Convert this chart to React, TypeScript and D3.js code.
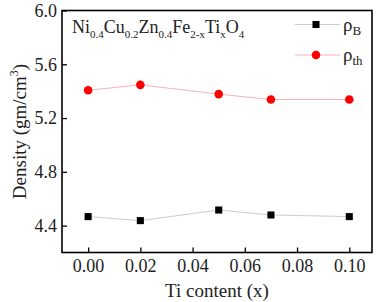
import React, { useRef, useEffect } from 'react'
import { select, scaleLinear, axisBottom, axisLeft, line, symbol, symbolSquare } from 'd3'

const tiContent = [0.0, 0.02, 0.05, 0.07, 0.1]
const rhoB = [4.467, 4.437, 4.516, 4.479, 4.467]
const rhoTh = [5.407, 5.447, 5.378, 5.338, 5.338]
const xTicks = [0.0, 0.02, 0.04, 0.06, 0.08, 0.1]
const yTicks = [4.4, 4.8, 5.2, 5.6, 6.0]

const W = 377, H = 302
const margin = { top: 10.5, right: 5, bottom: 49.5, left: 62 }
const FONT = 'Liberation Serif'

export default function App() {
  const axesRef = useRef<SVGGElement>(null)

  const x = scaleLinear().domain([-0.01, 0.1087]).range([margin.left, W - margin.right])
  const y = scaleLinear().domain([4.2, 6.0]).range([H - margin.bottom, margin.top])

  useEffect(() => {
    const g = select(axesRef.current)
    g.selectAll('*').remove()
    const xa = g.append('g')
      .attr('transform', `translate(0,${H - margin.bottom})`)
      .call(axisBottom(x).tickValues(xTicks).tickFormat((d: any) => d.toFixed(2)).tickSize(-5).tickPadding(7).tickSizeOuter(0))
    const ya = g.append('g')
      .attr('transform', `translate(${margin.left},0)`)
      .call(axisLeft(y).tickValues(yTicks).tickFormat((d: any) => d.toFixed(1)).tickSize(-5).tickPadding(5).tickSizeOuter(0))
    ;[xa, ya].forEach(a => {
      a.attr('font-family', FONT).attr('font-size', 18)
      a.select('.domain').remove()
      a.selectAll('line').attr('stroke', '#000').attr('stroke-width', 1.3)
      a.selectAll('text').attr('fill', '#222')
    })
  }, [])

  const lineGen = line<number>().x((_, i) => x(tiContent[i])).y(d => y(d))
  const sq = symbol().type(symbolSquare).size(50)()

  return (
    <div style={{ position: 'absolute', left: 0, top: 0, width: W, height: H, fontFamily: FONT }}>
      <style>{`svg text, svg tspan { font-family: "${FONT}" !important; }`}</style>
      <svg width={W} height={H} fontFamily={FONT}>
        <rect width={W} height={H} fill="#fff" />
        <path d={lineGen(rhoB) ?? ''} fill="none" stroke="#cccccc" strokeWidth={1} />
        <path d={lineGen(rhoTh) ?? ''} fill="none" stroke="#f7b4b4" strokeWidth={1} />
        {rhoB.map((d, i) => (
          <path key={'b' + i} d={sq ?? ''} transform={`translate(${x(tiContent[i])},${y(d)})`} fill="#000" />
        ))}
        {rhoTh.map((d, i) => (
          <circle key={'t' + i} cx={x(tiContent[i])} cy={y(d)} r={4.3} fill="#ff0000" />
        ))}
        <g ref={axesRef} />
        <rect x={margin.left} y={margin.top} width={W - margin.left - margin.right} height={H - margin.top - margin.bottom}
          fill="none" stroke="#000" strokeWidth={1.6} />

        <text x={72} y={33} fontSize={18} fill="#222">
          Ni<tspan fontSize={11} dy={5}>0.4</tspan>
          <tspan dy={-5}>Cu</tspan><tspan fontSize={11} dy={5}>0.2</tspan>
          <tspan dy={-5}>Zn</tspan><tspan fontSize={11} dy={5}>0.4</tspan>
          <tspan dy={-5}>Fe</tspan><tspan fontSize={11} dy={5}>2-x</tspan>
          <tspan dy={-5}>Ti</tspan><tspan fontSize={11} dy={5}>x</tspan>
          <tspan dy={-5}>O</tspan><tspan fontSize={11} dy={5}>4</tspan>
        </text>

        <g transform="translate(295,24.5)">
          <line x1={0} x2={45} stroke="#cccccc" strokeWidth={1} />
          <path d={sq ?? ''} transform="translate(21,0)" fill="#000" />
          <text x={48} y={6} fontSize={19} fill="#222">ρ<tspan fontSize={13} dy={4}>B</tspan></text>
        </g>
        <g transform="translate(295,55)">
          <line x1={0} x2={45} stroke="#f7b4b4" strokeWidth={1} />
          <circle cx={21} cy={0} r={4.3} fill="#ff0000" />
          <text x={48} y={6} fontSize={19} fill="#222">ρ<tspan fontSize={13} dy={4}>th</tspan></text>
        </g>

        <text x={(margin.left + W - margin.right) / 2} y={297} fontSize={19} textAnchor="middle" fill="#222">Ti content (x)</text>
        <text transform={`translate(26,${(margin.top + H - margin.bottom) / 2}) rotate(-90)`} fontSize={19} textAnchor="middle" fill="#222">
          Density (gm/cm<tspan fontSize={12} dy={-8}>3</tspan><tspan dy={8}>)</tspan>
        </text>
      </svg>
    </div>
  )
}
